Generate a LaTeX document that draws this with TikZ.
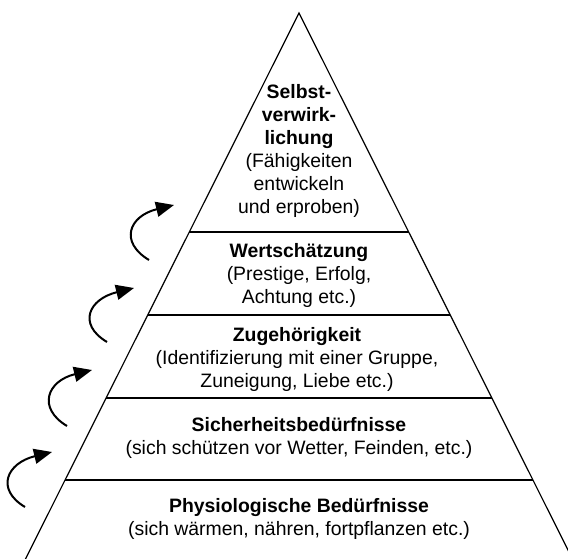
\documentclass[tikz,border=0pt]{standalone}
\usepackage{fontspec}
\setmainfont{Liberation Sans}
\usetikzlibrary{arrows.meta}
\begin{document}
\begin{tikzpicture}[x=1pt,y=-1pt,
  edge/.style={line width=1.2pt},
  tiertext/.style={align=center,inner sep=0pt,font=\fontsize{19.4pt}{23pt}\selectfont},
  uparrow/.style={line width=2pt,-{Triangle[length=18pt,width=15pt]}}]
\useasboundingbox (0,0) rectangle (568,559);
\clip (0,0) rectangle (568,559);
\coordinate (apex) at (299,13);
\coordinate (bl) at (24,562);
\coordinate (br) at (574,562);
\draw[edge,line join=miter] (bl) -- (apex) -- (br);
% tier separators
\coordinate (l4) at (189.3,232); \coordinate (r4) at (408.7,232);
\coordinate (l3) at (147.7,315); \coordinate (r3) at (450.3,315);
\coordinate (l2) at (106.1,398); \coordinate (r2) at (491.9,398);
\coordinate (l1) at (65,480);    \coordinate (r1) at (533,480);
\draw[edge] (l4) -- (r4);
\draw[edge] (l3) -- (r3);
\draw[edge] (l2) -- (r2);
\draw[edge] (l1) -- (r1);
% texts
\node[tiertext] (t5) at (299,151) {\textbf{Selbst-}\\\textbf{verwirk-}\\\textbf{lichung}\\(Fähigkeiten\\entwickeln\\und erproben)};
\node[tiertext] (t4) at (299,275) {\textbf{Wertschätzung}\\(Prestige, Erfolg,\\Achtung etc.)};
\node[tiertext] (t3) at (297,359) {\textbf{Zugehörigkeit}\\(Identifizierung mit einer Gruppe,\\Zuneigung, Liebe etc.)};
\node[tiertext] (t2) at (299,438) {\textbf{Sicherheitsbedürfnisse}\\(sich schützen vor Wetter, Feinden, etc.)};
\node[tiertext] (t1) at (299,519) {\textbf{Physiologische Bedürfnisse}\\(sich wärmen, nähren, fortpflanzen etc.)};
% arrows
\coordinate (a1s) at (25,507);  \coordinate (a1e) at (52,452);
\coordinate (a2s) at (67,426);  \coordinate (a2e) at (92,370);
\coordinate (a3s) at (107,342); \coordinate (a3e) at (134,288);
\coordinate (a4s) at (149,260); \coordinate (a4e) at (174,205);
\foreach \i in {1,2,3,4}{
  \draw[uparrow] (a\i s) .. controls +(-30,-18) and +(-45,11) .. (a\i e);
}
\end{tikzpicture}
\end{document}
